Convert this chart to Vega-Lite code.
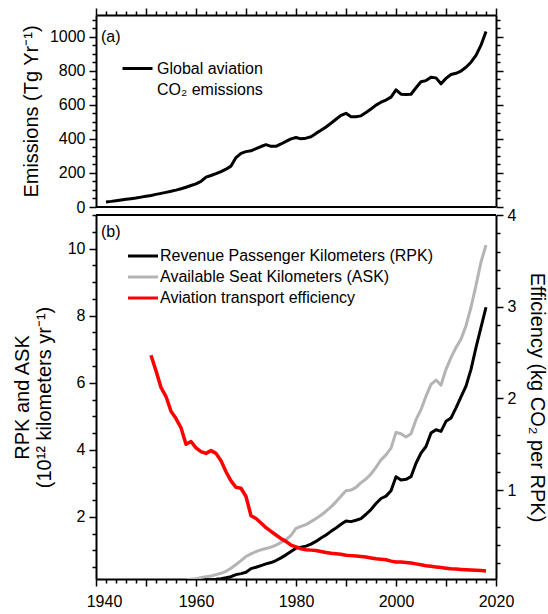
{
  "$schema": "https://vega.github.io/schema/vega-lite/v6.json",
  "width": 400,
  "height": 564,
  "autosize": {"type": "none"},
  "padding": {"left": 96, "top": 15, "right": 52, "bottom": 35},
  "background": "white",
  "config": {
    "font": "Liberation Sans",
    "view": {"stroke": null},
    "style": {"guide-label": {"lineHeight": 21}},
    "axis": {
      "grid": false,
      "domainColor": "black",
      "domainWidth": 2,
      "tickColor": "black",
      "tickWidth": 1.5,
      "labelColor": "black",
      "labelFont": "Liberation Sans",
      "labelFontSize": 16,
      "labelPadding": 4,
      "labelOverlap": false,
      "labelBound": false,
      "labelFlush": false,
      "titleFont": "Liberation Sans",
      "titleFontSize": 20,
      "titleFontWeight": "normal",
      "titleColor": "black"
    },
    "legend": {
      "title": null,
      "symbolStrokeWidth": 3,
      "labelFont": "Liberation Sans",
      "labelFontSize": 16,
      "labelColor": "black",
      "labelLimit": 400
    }
  },
  "datasets": {
    "aviation": [
      {"year": 1942, "emissions": 30},
      {"year": 1943, "emissions": 33},
      {"year": 1944, "emissions": 37},
      {"year": 1945, "emissions": 41},
      {"year": 1946, "emissions": 45},
      {"year": 1947, "emissions": 49},
      {"year": 1948, "emissions": 53},
      {"year": 1949, "emissions": 58},
      {"year": 1950, "emissions": 63},
      {"year": 1951, "emissions": 68, "RPK": 0.028, "ASK": 0.045, "Efficiency": 2.47},
      {"year": 1952, "emissions": 74, "RPK": 0.032, "ASK": 0.05, "Efficiency": 2.3},
      {"year": 1953, "emissions": 80, "RPK": 0.038, "ASK": 0.06, "Efficiency": 2.12},
      {"year": 1954, "emissions": 86, "RPK": 0.043, "ASK": 0.07, "Efficiency": 2.02},
      {"year": 1955, "emissions": 92, "RPK": 0.049, "ASK": 0.08, "Efficiency": 1.86},
      {"year": 1956, "emissions": 99, "RPK": 0.056, "ASK": 0.09, "Efficiency": 1.78},
      {"year": 1957, "emissions": 107, "RPK": 0.064, "ASK": 0.105, "Efficiency": 1.68},
      {"year": 1958, "emissions": 116, "RPK": 0.077, "ASK": 0.12, "Efficiency": 1.5},
      {"year": 1959, "emissions": 126, "RPK": 0.082, "ASK": 0.14, "Efficiency": 1.53},
      {"year": 1960, "emissions": 136, "RPK": 0.093, "ASK": 0.16, "Efficiency": 1.46},
      {"year": 1961, "emissions": 150, "RPK": 0.106, "ASK": 0.19, "Efficiency": 1.42},
      {"year": 1962, "emissions": 175, "RPK": 0.125, "ASK": 0.22, "Efficiency": 1.4},
      {"year": 1963, "emissions": 185, "RPK": 0.129, "ASK": 0.24, "Efficiency": 1.43},
      {"year": 1964, "emissions": 196, "RPK": 0.14, "ASK": 0.28, "Efficiency": 1.4},
      {"year": 1965, "emissions": 208, "RPK": 0.158, "ASK": 0.32, "Efficiency": 1.32},
      {"year": 1966, "emissions": 222, "RPK": 0.185, "ASK": 0.38, "Efficiency": 1.2},
      {"year": 1967, "emissions": 240, "RPK": 0.218, "ASK": 0.47, "Efficiency": 1.1},
      {"year": 1968, "emissions": 290, "RPK": 0.28, "ASK": 0.58, "Efficiency": 1.03},
      {"year": 1969, "emissions": 315, "RPK": 0.31, "ASK": 0.7, "Efficiency": 1.02},
      {"year": 1970, "emissions": 325, "RPK": 0.35, "ASK": 0.82, "Efficiency": 0.93},
      {"year": 1971, "emissions": 330, "RPK": 0.46, "ASK": 0.9, "Efficiency": 0.72},
      {"year": 1972, "emissions": 342, "RPK": 0.5, "ASK": 0.97, "Efficiency": 0.69},
      {"year": 1973, "emissions": 355, "RPK": 0.55, "ASK": 1.02, "Efficiency": 0.64},
      {"year": 1974, "emissions": 366, "RPK": 0.6, "ASK": 1.06, "Efficiency": 0.59},
      {"year": 1975, "emissions": 356, "RPK": 0.64, "ASK": 1.1, "Efficiency": 0.55},
      {"year": 1976, "emissions": 356, "RPK": 0.7, "ASK": 1.16, "Efficiency": 0.51},
      {"year": 1977, "emissions": 370, "RPK": 0.78, "ASK": 1.24, "Efficiency": 0.47},
      {"year": 1978, "emissions": 385, "RPK": 0.87, "ASK": 1.32, "Efficiency": 0.44},
      {"year": 1979, "emissions": 400, "RPK": 0.97, "ASK": 1.45, "Efficiency": 0.4},
      {"year": 1980, "emissions": 408, "RPK": 1.07, "ASK": 1.66, "Efficiency": 0.38},
      {"year": 1981, "emissions": 400, "RPK": 1.1, "ASK": 1.72, "Efficiency": 0.36},
      {"year": 1982, "emissions": 404, "RPK": 1.13, "ASK": 1.77, "Efficiency": 0.35},
      {"year": 1983, "emissions": 412, "RPK": 1.19, "ASK": 1.86, "Efficiency": 0.345},
      {"year": 1984, "emissions": 432, "RPK": 1.27, "ASK": 1.95, "Efficiency": 0.34},
      {"year": 1985, "emissions": 450, "RPK": 1.37, "ASK": 2.05, "Efficiency": 0.33},
      {"year": 1986, "emissions": 470, "RPK": 1.46, "ASK": 2.17, "Efficiency": 0.32},
      {"year": 1987, "emissions": 492, "RPK": 1.57, "ASK": 2.3, "Efficiency": 0.31},
      {"year": 1988, "emissions": 515, "RPK": 1.67, "ASK": 2.45, "Efficiency": 0.305},
      {"year": 1989, "emissions": 538, "RPK": 1.78, "ASK": 2.62, "Efficiency": 0.3},
      {"year": 1990, "emissions": 550, "RPK": 1.88, "ASK": 2.78, "Efficiency": 0.29},
      {"year": 1991, "emissions": 530, "RPK": 1.86, "ASK": 2.8, "Efficiency": 0.285},
      {"year": 1992, "emissions": 530, "RPK": 1.9, "ASK": 2.88, "Efficiency": 0.28},
      {"year": 1993, "emissions": 535, "RPK": 1.95, "ASK": 3.02, "Efficiency": 0.275},
      {"year": 1994, "emissions": 555, "RPK": 2.08, "ASK": 3.13, "Efficiency": 0.27},
      {"year": 1995, "emissions": 575, "RPK": 2.22, "ASK": 3.28, "Efficiency": 0.26},
      {"year": 1996, "emissions": 598, "RPK": 2.4, "ASK": 3.48, "Efficiency": 0.25},
      {"year": 1997, "emissions": 615, "RPK": 2.55, "ASK": 3.7, "Efficiency": 0.245},
      {"year": 1998, "emissions": 628, "RPK": 2.62, "ASK": 3.85, "Efficiency": 0.24},
      {"year": 1999, "emissions": 645, "RPK": 2.78, "ASK": 4.05, "Efficiency": 0.225},
      {"year": 2000, "emissions": 688, "RPK": 3.2, "ASK": 4.52, "Efficiency": 0.215},
      {"year": 2001, "emissions": 662, "RPK": 3.1, "ASK": 4.48, "Efficiency": 0.215},
      {"year": 2002, "emissions": 660, "RPK": 3.12, "ASK": 4.38, "Efficiency": 0.21},
      {"year": 2003, "emissions": 662, "RPK": 3.2, "ASK": 4.48, "Efficiency": 0.205},
      {"year": 2004, "emissions": 700, "RPK": 3.6, "ASK": 4.9, "Efficiency": 0.195},
      {"year": 2005, "emissions": 735, "RPK": 3.9, "ASK": 5.2, "Efficiency": 0.185},
      {"year": 2006, "emissions": 742, "RPK": 4.1, "ASK": 5.6, "Efficiency": 0.175},
      {"year": 2007, "emissions": 762, "RPK": 4.5, "ASK": 5.95, "Efficiency": 0.168},
      {"year": 2008, "emissions": 758, "RPK": 4.6, "ASK": 6.08, "Efficiency": 0.162},
      {"year": 2009, "emissions": 723, "RPK": 4.55, "ASK": 5.93, "Efficiency": 0.155},
      {"year": 2010, "emissions": 755, "RPK": 4.85, "ASK": 6.4, "Efficiency": 0.148},
      {"year": 2011, "emissions": 778, "RPK": 4.95, "ASK": 6.75, "Efficiency": 0.142},
      {"year": 2012, "emissions": 785, "RPK": 5.25, "ASK": 7.05, "Efficiency": 0.138},
      {"year": 2013, "emissions": 798, "RPK": 5.58, "ASK": 7.3, "Efficiency": 0.134},
      {"year": 2014, "emissions": 820, "RPK": 5.9, "ASK": 7.7, "Efficiency": 0.131},
      {"year": 2015, "emissions": 850, "RPK": 6.4, "ASK": 8.25, "Efficiency": 0.128},
      {"year": 2016, "emissions": 890, "RPK": 7.05, "ASK": 8.9, "Efficiency": 0.125},
      {"year": 2017, "emissions": 950, "RPK": 7.65, "ASK": 9.6, "Efficiency": 0.122},
      {"year": 2018, "emissions": 1030, "RPK": 8.25, "ASK": 10.1, "Efficiency": 0.118}
    ]
  },
  "layer": [
    {
      "data": {"name": "aviation"},
      "mark": {"type": "line", "strokeWidth": 3, "strokeJoin": "round"},
      "encoding": {
        "x": {
          "field": "year", "type": "quantitative",
          "scale": {"domain": [1940, 2020], "nice": false, "zero": false},
          "axis": {
            "orient": "top", "title": null, "labels": false,
            "values": [1940,1942,1944,1946,1948,1950,1952,1954,1956,1958,1960,1962,1964,1966,1968,1970,1972,1974,1976,1978,1980,1982,1984,1986,1988,1990,1992,1994,1996,1998,2000,2002,2004,2006,2008,2010,2012,2014,2016,2018,2020],
            "tickSize": {"condition": {"test": "datum.value % 10 === 0", "value": 7}, "value": 4}
          }
        },
        "y": {
          "field": "emissions", "type": "quantitative",
          "scale": {"domain": [0, 1127], "range": [192, 0], "nice": false, "zero": false},
          "axis": {
            "orient": "left",
            "title": "Emissions (Tg Yr⁻¹)",
            "titlePadding": 8,
            "values": [0,50,100,150,200,250,300,350,400,450,500,550,600,650,700,750,800,850,900,950,1000,1050,1100],
            "labelExpr": "datum.value % 200 === 0 ? '' + datum.value : ''",
            "tickSize": {"condition": {"test": "datum.value % 200 === 0", "value": 7}, "value": 4}
          }
        },
        "stroke": {
          "datum": "Global aviation CO2 emissions",
          "scale": {"range": ["black"]},
          "legend": {
            "orient": "none", "legendX": 25, "legendY": 37,
            "symbolType": "stroke", "symbolSize": 900, "labelOffset": 3,
            "labelExpr": "['Global aviation', 'CO₂ emissions']"
          }
        }
      }
    },
    {
      "data": {"values": [{}]},
      "mark": {"type": "rule", "color": "black", "strokeWidth": 2},
      "encoding": {
        "y": {
          "datum": 0, "type": "quantitative",
          "scale": {"domain": [0, 1127], "range": [192, 0], "nice": false, "zero": false},
          "axis": {
            "orient": "right", "title": null, "labels": false,
            "values": [0,50,100,150,200,250,300,350,400,450,500,550,600,650,700,750,800,850,900,950,1000,1050,1100],
            "tickSize": {"condition": {"test": "datum.value % 200 === 0", "value": 7}, "value": 4}
          }
        }
      }
    },
    {
      "data": {"values": [{}]},
      "mark": {"type": "text", "align": "left", "baseline": "middle", "fontSize": 16, "color": "black"},
      "encoding": {
        "x": {"datum": 1941, "type": "quantitative", "axis": null},
        "y": {
          "datum": 1000, "type": "quantitative",
          "scale": {"domain": [0, 1127], "range": [192, 0], "nice": false, "zero": false},
          "axis": null
        },
        "text": {"value": "(a)"}
      }
    },
    {
      "data": {"name": "aviation"},
      "transform": [{"fold": ["ASK", "RPK"], "as": ["series", "value"]}],
      "mark": {"type": "line", "strokeWidth": 3, "clip": true, "strokeJoin": "round"},
      "encoding": {
        "x": {
          "field": "year", "type": "quantitative",
          "axis": {
            "orient": "bottom", "title": null,
            "values": [1940,1942,1944,1946,1948,1950,1952,1954,1956,1958,1960,1962,1964,1966,1968,1970,1972,1974,1976,1978,1980,1982,1984,1986,1988,1990,1992,1994,1996,1998,2000,2002,2004,2006,2008,2010,2012,2014,2016,2018,2020],
            "labelExpr": "datum.value % 20 === 0 ? '' + datum.value : ''",
            "labelPadding": 7,
            "labelOffset": {"condition": {"test": "datum.value === 1940", "value": 8}, "value": 0},
            "tickSize": {"condition": {"test": "datum.value % 10 === 0", "value": 7}, "value": 4}
          }
        },
        "y": {
          "field": "value", "type": "quantitative",
          "scale": {"domain": [0.15, 11], "range": [564, 200], "nice": false, "zero": false},
          "axis": {
            "orient": "left",
            "title": ["RPK and ASK", "(10¹² kilometers yr⁻¹)"],
            "titleLineHeight": 22,
            "titlePadding": 13,
            "values": [0.5,1,1.5,2,2.5,3,3.5,4,4.5,5,5.5,6,6.5,7,7.5,8,8.5,9,9.5,10,10.5,11],
            "labelExpr": "datum.value % 2 === 0 ? '' + datum.value : ''",
            "tickSize": {"condition": {"test": "datum.value % 2 === 0", "value": 7}, "value": 4}
          }
        },
        "color": {
          "field": "series", "type": "nominal",
          "scale": {
            "domain": ["RPK", "ASK", "Efficiency"],
            "range": ["#000000", "#b4b4b4", "#ff0000"]
          },
          "legend": {
            "orient": "none", "legendX": 38, "legendY": 232,
            "symbolType": "M-2,0H2", "symbolSize": 225,
            "labelOffset": 8, "rowPadding": 4,
            "labelExpr": "datum.label === 'RPK' ? 'Revenue Passenger Kilometers (RPK)' : datum.label === 'ASK' ? 'Available Seat Kilometers (ASK)' : 'Aviation transport efficiency'"
          }
        }
      }
    },
    {
      "data": {"values": [{}]},
      "mark": {"type": "rule", "color": "black", "strokeWidth": 2},
      "encoding": {
        "y": {
          "datum": 11, "type": "quantitative",
          "scale": {"domain": [0.15, 11], "range": [564, 200], "nice": false, "zero": false},
          "axis": null
        }
      }
    },
    {
      "data": {"values": [{}]},
      "mark": {"type": "text", "align": "left", "baseline": "middle", "fontSize": 16, "color": "black"},
      "encoding": {
        "x": {"datum": 1941, "type": "quantitative", "axis": null},
        "y": {
          "datum": 10.5, "type": "quantitative",
          "scale": {"domain": [0.15, 11], "range": [564, 200], "nice": false, "zero": false},
          "axis": null
        },
        "text": {"value": "(b)"}
      }
    },
    {
      "data": {"name": "aviation"},
      "transform": [{"fold": ["Efficiency"], "as": ["series", "value"]}],
      "mark": {"type": "line", "strokeWidth": 3.5, "clip": true, "strokeJoin": "round"},
      "encoding": {
        "x": {"field": "year", "type": "quantitative", "axis": null},
        "y": {
          "field": "value", "type": "quantitative",
          "scale": {"domain": [0.03, 4], "range": [564, 200], "nice": false, "zero": false},
          "axis": {
            "orient": "right",
            "title": "Efficiency (kg CO₂ per RPK)",
            "titlePadding": 11,
            "values": [0.2,0.4,0.6,0.8,1,1.2,1.4,1.6,1.8,2,2.2,2.4,2.6,2.8,3,3.2,3.4,3.6,3.8,4],
            "labelExpr": "datum.value % 1 === 0 ? '' + datum.value : ''",
            "tickSize": {"condition": {"test": "datum.value % 1 === 0", "value": 7}, "value": 4}
          }
        },
        "color": {"field": "series", "type": "nominal"}
      }
    }
  ],
  "resolve": {
    "scale": {"y": "independent"},
    "axis": {"x": "independent", "y": "independent"}
  }
}
